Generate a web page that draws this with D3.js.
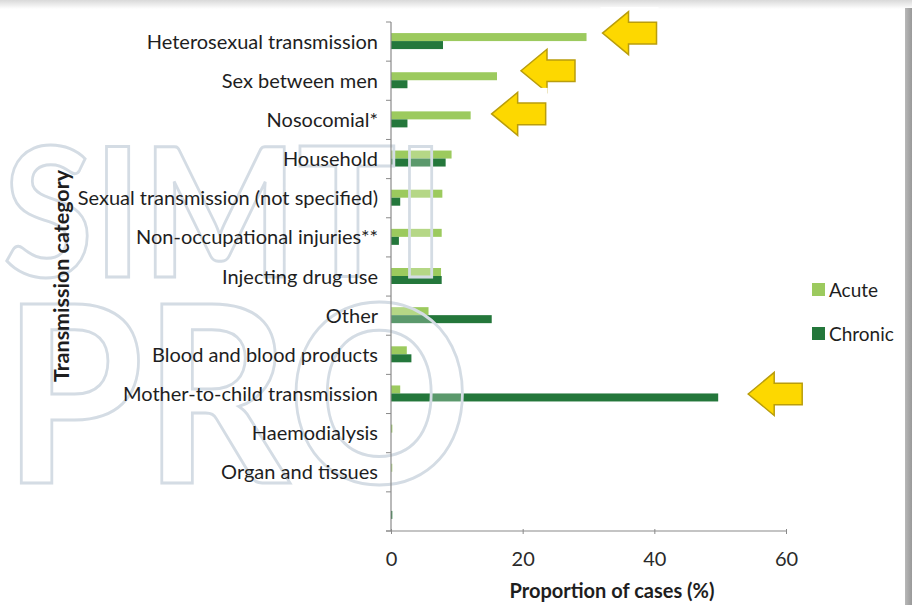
<!DOCTYPE html>
<html>
<head>
<meta charset="utf-8">
<script src="https://cdn.jsdelivr.net/npm/d3@7"></script>
<style>
  html, body { margin: 0; padding: 0; background: #fff; }
  svg { display: block; }
  text { font-family: Lato, "Open Sans", sans-serif; }
</style>
</head>
<body>
<div id="chart"></div>
<script>
// data
const categories = [
  "Heterosexual transmission",
  "Sex between men",
  "Nosocomial*",
  "Household",
  "Sexual transmission (not specified)",
  "Non-occupational injuries**",
  "Injecting drug use",
  "Other",
  "Blood and blood products",
  "Mother-to-child transmission",
  "Haemodialysis",
  "Organ and tissues",
  ""
];
const acute = [29.7, 16.1, 12.1, 9.2, 7.8, 7.7, 7.6, 5.7, 2.4, 1.4, 0.2, 0.2, 0];
const chronic = [7.9, 2.5, 2.5, 8.3, 1.4, 1.2, 7.7, 15.3, 3.1, 49.7, 0, 0, 0.2];
const seriesNames = ["Acute", "Chronic"];
const xTicks = [0, 20, 40, 60];
const highlighted = ["Heterosexual transmission", "Sex between men", "Nosocomial*", "Mother-to-child transmission"];

const w = 912, h = 605;
const colors = { Acute: "#9cca5e", Chronic: "#24773b" };

var svg = d3.select("#chart").append("svg").attr("width", w).attr("height", h);

// page frame (top shadow + right edge)
var defs = svg.append("defs");
var gTop = defs.append("linearGradient").attr("id", "topShade").attr("x1", 0).attr("x2", 0).attr("y1", 0).attr("y2", 1);
gTop.append("stop").attr("offset", "0%").attr("stop-color", "#d9d9d9");
gTop.append("stop").attr("offset", "100%").attr("stop-color", "#ffffff");
var gRight = defs.append("linearGradient").attr("id", "rightShade").attr("x1", 0).attr("x2", 1).attr("y1", 0).attr("y2", 0);
gRight.append("stop").attr("offset", "0%").attr("stop-color", "#b8b8b8");
gRight.append("stop").attr("offset", "100%").attr("stop-color", "#999999");

svg.append("rect").attr("x", 0).attr("y", 0).attr("width", w).attr("height", 9).attr("fill", "url(#topShade)");
svg.append("rect").attr("x", 905).attr("y", 8).attr("width", 7).attr("height", h - 8).attr("fill", "url(#rightShade)");

// scales
var x = d3.scaleLinear().domain([0, 60]).range([391, 786]);
var y = d3.scaleBand().domain(categories).range([22, 531]);
var ySub = d3.scaleBand().domain(seriesNames).range([y.bandwidth() / 2 - 8.5, y.bandwidth() / 2 + 7.5]);

// bars
var rows = categories.map(function (c, i) {
  return { name: c, Acute: acute[i], Chronic: chronic[i] };
});

var barG = svg.append("g").attr("id", "bars");
barG.selectAll("g.row")
  .data(rows)
  .enter()
  .append("g")
  .attr("class", "row")
  .attr("transform", function (d) { return "translate(0," + y(d.name) + ")"; })
  .each(function (d) {
    d3.select(this)
      .selectAll("rect")
      .data(seriesNames.map(function (s) { return { s: s, v: d[s] }; }))
      .enter()
      .append("rect")
      .attr("x", x(0))
      .attr("y", function (e) { return ySub(e.s); })
      .attr("height", ySub.bandwidth())
      .attr("width", function (e) { return x(e.v) - x(0); })
      .attr("fill", function (e) { return colors[e.s]; });
  });

// watermark (faint outlined letters)
var wm = svg.append("g").attr("id", "watermark")
  .attr("fill", "rgba(255,255,255,0.25)")
  .attr("stroke", "#d4dce4")
  .attr("stroke-width", 3)
  .style("font-family", "'DejaVu Sans', sans-serif")
  .style("font-weight", "bold");
wm.append("text").attr("x", 3).attr("y", 277).attr("font-size", 180)
  .attr("textLength", 442).attr("lengthAdjust", "spacingAndGlyphs").text("SIMTI");
wm.append("text").attr("x", 3).attr("y", 483).attr("font-size", 248)
  .attr("textLength", 468).attr("lengthAdjust", "spacingAndGlyphs").text("PRO");

// y axis
var yAxis = svg.append("g").attr("transform", "translate(" + x(0) + ",0)");
yAxis.append("line").attr("x1", 0).attr("x2", 0).attr("y1", y.range()[0]).attr("y2", y.range()[1])
  .attr("stroke", "#8a8a8a").attr("stroke-width", 1.2);
yAxis.selectAll("line.tick")
  .data(categories.map(function (c) { return y(c); }).concat([y.range()[1]]))
  .enter()
  .append("line")
  .attr("class", "tick")
  .attr("x1", -5).attr("x2", 0)
  .attr("y1", function (d) { return d; }).attr("y2", function (d) { return d; })
  .attr("stroke", "#8a8a8a");
yAxis.selectAll("text")
  .data(categories)
  .enter()
  .append("text")
  .attr("x", -13)
  .attr("y", function (d) { return y(d) + y.bandwidth() / 2; })
  .attr("dy", "0.35em")
  .attr("text-anchor", "end")
  .attr("font-size", 20)
  .attr("fill", "#1e1e1e")
  .text(function (d) { return d; });

// x axis
var xAxis = svg.append("g").attr("transform", "translate(0,531)")
  .call(d3.axisBottom(x).tickValues(xTicks).tickSize(4).tickPadding(17));
xAxis.select(".domain").attr("stroke", "#8a8a8a").attr("stroke-width", 1.2)
  .attr("d", "M386,0H" + x(60));
xAxis.selectAll(".tick line").attr("stroke", "#8a8a8a").attr("y1", -2).attr("y2", 3);
xAxis.selectAll(".tick text").attr("font-size", 20).attr("fill", "#2a2a2a")
  .style("font-family", "Lato, sans-serif");

// axis titles
svg.append("text")
  .attr("x", 612).attr("y", 591).attr("dy", "0.35em")
  .attr("text-anchor", "middle")
  .attr("font-size", 20).attr("font-weight", "bold").attr("fill", "#1e1e1e")
  .text("Proportion of cases (%)");

svg.append("text")
  .attr("transform", "translate(61,276) rotate(-90)")
  .attr("dy", "0.35em")
  .attr("text-anchor", "middle")
  .attr("font-size", 21.5).attr("font-weight", "bold").attr("fill", "#1e1e1e")
  .text("Transmission category");

// legend
var legend = svg.append("g").attr("transform", "translate(812,283)");
legend.selectAll("g")
  .data(seriesNames)
  .enter()
  .append("g")
  .attr("transform", function (d, i) { return "translate(0," + i * 44 + ")"; })
  .each(function (d) {
    d3.select(this).append("rect").attr("width", 13).attr("height", 13).attr("fill", colors[d]);
    d3.select(this).append("text").attr("x", 17).attr("y", 7).attr("dy", "0.35em")
      .attr("font-size", 19).attr("fill", "#1e1e1e").text(d);
  });

// highlight arrows
var arrowGap = [16, 24, 21, 30];
var arrowDy = [-8.5, -10, -6, 0];
var arrowPath = "M0,0L26,-21.5L26,-10.8L54,-10.8L54,10.8L26,10.8L26,21.5Z";
var arrows = svg.append("g").attr("id", "arrows");
highlighted.forEach(function (c, i) {
  var k = categories.indexOf(c);
  var tipX = x(Math.max(acute[k], chronic[k])) + arrowGap[i];
  var tipY = y(c) + y.bandwidth() / 2 + arrowDy[i];
  var a = arrows.append("g").attr("transform", "translate(" + tipX + "," + tipY + ")");
  a.append("rect").attr("x", -2).attr("y", -26).attr("width", 58).attr("height", 52).attr("fill", "#fff");
  a.append("path").attr("d", arrowPath)
    .attr("fill", "#fdd800").attr("stroke", "#b99d0c").attr("stroke-width", 1.5)
    .attr("stroke-linejoin", "miter");
});
</script>
</body>
</html>
